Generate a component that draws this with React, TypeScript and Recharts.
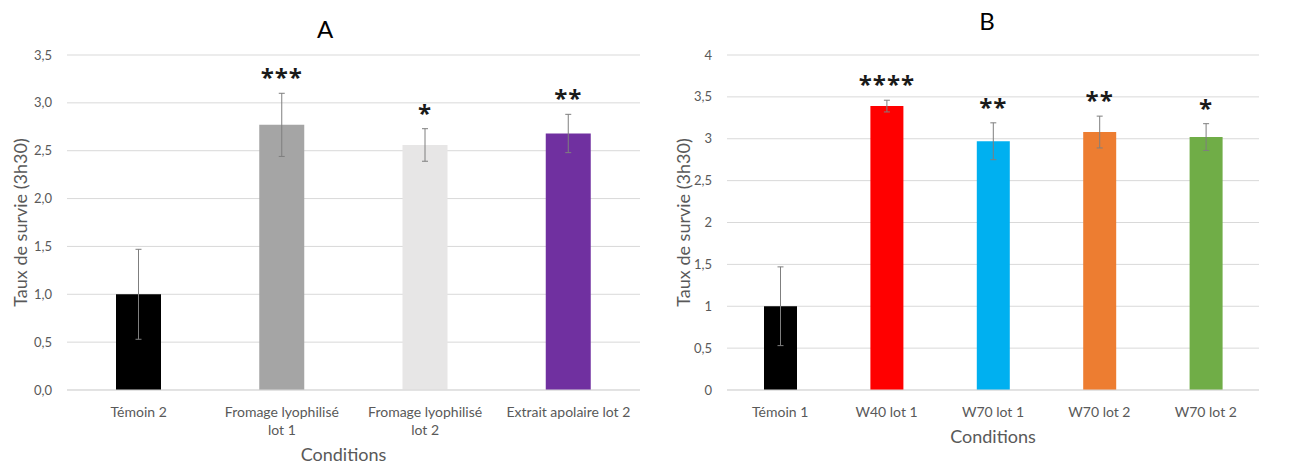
import { Bar, BarChart, CartesianGrid, Cell, ErrorBar, LabelList, XAxis, YAxis } from "recharts";

// Panel A
const categoriesA = ["Témoin 2", "Fromage lyophilisé\nlot 1", "Fromage lyophilisé\nlot 2", "Extrait apolaire lot 2"];
const meansA = [1.0, 2.77, 2.56, 2.68];
const errorsA = [0.47, 0.33, 0.17, 0.2];
const starsA = ["", "***", "*", "**"];
const ticksA = [0, 0.5, 1, 1.5, 2, 2.5, 3, 3.5];

// Panel B
const categoriesB = ["Témoin 1", "W40 lot 1", "W70 lot 1", "W70 lot 2", "W70 lot 2"];
const meansB = [1.0, 3.39, 2.97, 3.08, 3.02];
const errorsB = [0.47, 0.07, 0.22, 0.19, 0.16];
const starsB = ["", "****", "**", "**", "*"];
const ticksB = [0, 0.5, 1, 1.5, 2, 2.5, 3, 3.5, 4];

const colorsA = ["#000000", "#a5a5a5", "#e7e6e6", "#7030a0"];
const colorsB = ["#000000", "#ff0000", "#00b0f0", "#ed7d31", "#70ad47"];

const FONT = "Lato, 'Open Sans', sans-serif";
const GREY = "#595959";

const fmtA = (v: number) => v.toFixed(1).replace(".", ",");
const fmtB = (v: number) => String(v).replace(".", ",");

function CategoryTick(props: any) {
  const { x, y, payload } = props;
  const lines = String(payload.value).split("\n");
  return (
    <text x={x} y={y + 19} textAnchor="middle" fill={GREY} fontSize={14} fontFamily={FONT}>
      {lines.map((l, i) => (
        <tspan key={i} x={x} dy={i === 0 ? 0 : 18}>
          {l}
        </tspan>
      ))}
    </text>
  );
}

interface PanelProps {
  categories: string[];
  means: number[];
  errors: number[];
  stars: string[];
  colors: string[];
  ticks: number[];
  fmt: (v: number) => string;
  width: number;
  rightMargin: number;
  barSize: number;
  xTitleDy: number;
  xTitleDx: number;
  yTitleX: number;
}

function Panel(p: PanelProps) {
  const data = p.categories.map((name, i) => ({
    name,
    value: p.means[i],
    err: p.errors[i],
    stars: p.stars[i],
  }));

  const renderStars = (props: any) => {
    const { x, y, width, height, index } = props;
    const s = p.stars[index];
    if (!s) return null;
    const errPx = (p.errors[index] / p.means[index]) * Math.abs(height);
    const cy = y - errPx - 21;
    return (
      <text
        x={x + width / 2}
        y={cy + 14}
        textAnchor="middle"
        fontSize={24}
        fontWeight={700}
        letterSpacing={1}
        fontFamily="'Open Sans', sans-serif"
        fill="#1a1a1a">
        {s}
      </text>
    );
  };

  return (
    <BarChart
      width={p.width}
      height={466}
      data={data}
      margin={{ top: 55, right: p.rightMargin, bottom: 16, left: 0 }}>
      <CartesianGrid vertical={false} stroke="#d9d9d9" />
      <XAxis
        dataKey="name"
        height={60}
        interval={0}
        tickLine={false}
        axisLine={{ stroke: "#d9d9d9" }}
        tick={<CategoryTick />}
        label={{
          content: (lp: any) => {
            const vb = lp.viewBox;
            return (
              <text
                x={vb.x + vb.width / 2 + p.xTitleDx}
                y={vb.y + p.xTitleDy}
                textAnchor="middle"
                fill={GREY}
                fontSize={18}
                fontFamily={FONT}>
                Conditions
              </text>
            );
          },
        }}
      />
      <YAxis
        width={67}
        domain={[p.ticks[0], p.ticks[p.ticks.length - 1]]}
        ticks={p.ticks}
        tickFormatter={p.fmt}
        axisLine={false}
        tickLine={false}
        tickMargin={9}
        tick={{ fill: GREY, fontSize: 13, fontFamily: FONT }}
        label={{
          content: (lp: any) => {
            const vb = lp.viewBox;
            const cx = p.yTitleX;
            const cy = vb.y + vb.height / 2;
            return (
              <text
                x={cx}
                y={cy}
                transform={`rotate(-90, ${cx}, ${cy})`}
                textAnchor="middle"
                dominantBaseline="central"
                fill={GREY}
                fontSize={18}
                fontFamily={FONT}>
                Taux de survie (3h30)
              </text>
            );
          },
        }}
      />
      <Bar dataKey="value" barSize={p.barSize} isAnimationActive={false}>
        {data.map((_, i) => (
          <Cell key={i} fill={p.colors[i]} />
        ))}
        <ErrorBar dataKey="err" width={3} stroke="#7f7f7f" strokeWidth={1} direction="y" />
        <LabelList dataKey="stars" content={renderStars} />
      </Bar>
    </BarChart>
  );
}

export default function App() {
  return (
    <div style={{ position: "absolute", left: 0, top: 0, width: 1312, height: 466, background: "#fff", fontFamily: FONT }}>
      <div style={{ position: "absolute", left: 0, top: 0 }}>
        <Panel
          categories={categoriesA}
          means={meansA}
          errors={errorsA}
          stars={starsA}
          colors={colorsA}
          ticks={ticksA}
          fmt={fmtA}
          width={660}
          rightMargin={20}
          barSize={45}
          xTitleDy={71}
          xTitleDx={-10}
          yTitleX={20}
        />
      </div>
      <div style={{ position: "absolute", left: 660, top: 0 }}>
        <Panel
          categories={categoriesB}
          means={meansB}
          errors={errorsB}
          stars={starsB}
          colors={colorsB}
          ticks={ticksB}
          fmt={fmtB}
          width={652}
          rightMargin={53}
          barSize={33}
          xTitleDy={53}
          xTitleDx={0}
          yTitleX={23}
        />
      </div>
      <div style={{ position: "absolute", left: 325, top: 28, transform: "translate(-50%, -50%)", fontSize: 24, color: "#000" }}>
        A
      </div>
      <div style={{ position: "absolute", left: 987, top: 20, transform: "translate(-50%, -50%)", fontSize: 24, color: "#000" }}>
        B
      </div>
    </div>
  );
}
